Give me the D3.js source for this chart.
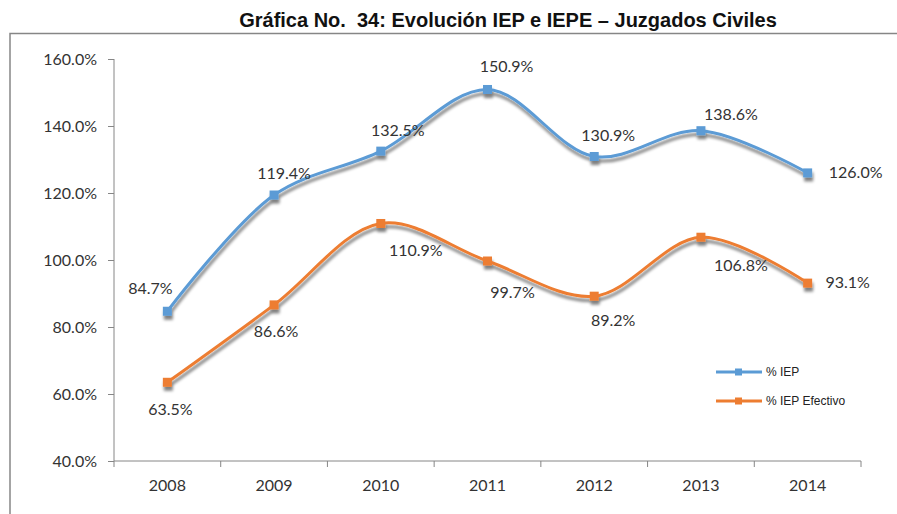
<!DOCTYPE html>
<html>
<head>
<meta charset="utf-8">
<script src="https://cdn.jsdelivr.net/npm/d3@7"></script>
<style>
  body { margin: 0; background: #fff; }
  svg { display: block; }
</style>
</head>
<body>
<svg id="chart" width="897" height="514"></svg>
<script>
// data
const years = ['2008', '2009', '2010', '2011', '2012', '2013', '2014'];
const iep = [84.7, 119.4, 132.5, 150.9, 130.9, 138.6, 126.0];
const iepe = [63.5, 86.6, 110.9, 99.7, 89.2, 106.8, 93.1];
const yTicks = [40, 60, 80, 100, 120, 140, 160];
const seriesNames = ['% IEP', '% IEP Efectivo'];

const blue = '#5b9bd5';
const orange = '#ed7d31';
const axisGrey = '#868686';

const svg = d3.select('#chart');

// shadow under the lines
const defs = svg.append('defs');
const f = defs.append('filter').attr('id', 'shadow')
    .attr('x', '-10%').attr('y', '-10%').attr('width', '120%').attr('height', '130%');
f.append('feGaussianBlur').attr('in', 'SourceAlpha').attr('stdDeviation', 1.8).attr('result', 'b');
f.append('feOffset').attr('in', 'b').attr('dx', 1).attr('dy', 3.5).attr('result', 'o');
f.append('feComponentTransfer').attr('in', 'o').attr('result', 's')
  .append('feFuncA').attr('type', 'linear').attr('slope', 0.5);
const m = f.append('feMerge');
m.append('feMergeNode').attr('in', 's');
m.append('feMergeNode').attr('in', 'SourceGraphic');

// title
svg.append('text')
    .attr('x', 508).attr('y', 27)
    .attr('text-anchor', 'middle')
    .attr('font-family', 'Liberation Sans, Arial, sans-serif')
    .attr('font-weight', 'bold')
    .attr('font-size', 20)
    .attr('fill', '#111')
    .style('white-space', 'pre')
    .text('Gráfica No.  34: Evolución IEP e IEPE – Juzgados Civiles');

// frame (top + left only visible)
svg.append('path')
    .attr('d', 'M10,514 V33.5 H897')
    .attr('fill', 'none')
    .attr('stroke', axisGrey)
    .attr('stroke-width', 1.5);

const x = d3.scaleBand().domain(years).range([114, 861]);
const y = d3.scaleLinear().domain([40, 160]).range([461, 59]);
const cx = d => x(d) + x.bandwidth() / 2;

const font = 'Lato, Carlito, Calibri, sans-serif';

// y axis
const yAxis = svg.append('g')
    .attr('transform', 'translate(114,0)')
    .call(d3.axisLeft(y).tickValues(yTicks).tickSize(6).tickPadding(11)
      .tickFormat(d => d3.format('.1f')(d) + '%'));
yAxis.select('.domain').attr('stroke', axisGrey).attr('d', 'M0,59V461');
yAxis.selectAll('line').attr('stroke', axisGrey);
yAxis.selectAll('text').attr('font-family', font).attr('font-size', 16).attr('fill', '#333');

// x axis
const xAxis = svg.append('g')
    .attr('transform', 'translate(0,461)')
    .call(d3.axisBottom(x).tickSize(0).tickPadding(19));
xAxis.select('.domain').attr('stroke', axisGrey).attr('d', 'M114,0H861');
xAxis.selectAll('text').attr('font-family', font).attr('font-size', 16).attr('fill', '#333');
const bounds = years.map(d => x(d)).concat([x(years[years.length - 1]) + x.bandwidth()]);
xAxis.selectAll('.bnd').data(bounds).enter().append('line')
    .attr('x1', d => d).attr('x2', d => d)
    .attr('y1', 0).attr('y2', 6)
    .attr('stroke', axisGrey);

// lines
const line = d3.line()
    .x((d, i) => cx(years[i]))
    .y(d => y(d))
    .curve(d3.curveCatmullRom.alpha(0.5));

const series = [
  { name: seriesNames[0], values: iep, color: blue },
  { name: seriesNames[1], values: iepe, color: orange }
];

const sg = svg.selectAll('.series').data(series).enter().append('g')
    .attr('class', 'series')
    .attr('filter', 'url(#shadow)');
sg.append('path')
    .attr('d', d => line(d.values))
    .attr('fill', 'none')
    .attr('stroke', d => d.color)
    .attr('stroke-width', 3);
sg.selectAll('rect').data(d => d.values.map((v, i) => ({ v, i, c: d.color })))
  .enter().append('rect')
    .attr('x', d => cx(years[d.i]) - 4.5)
    .attr('y', d => y(d.v) - 4.5)
    .attr('width', 9).attr('height', 9)
    .attr('fill', d => d.c);

// data labels (offsets from the point)
const iepOff = [[-17, -17], [10, -16], [17, -15], [19, -17], [14, -15], [30, -11], [48, 5]];
const iepeOff = [[3, 33], [2, 32], [35, 33], [25, 37], [19, 30], [40, 34], [40, 5]];
const labels = [];
iep.forEach((v, i) => labels.push({ v, i, off: iepOff[i] }));
iepe.forEach((v, i) => labels.push({ v, i, off: iepeOff[i] }));
svg.selectAll('.lbl').data(labels).enter().append('text')
    .attr('x', d => cx(years[d.i]) + d.off[0])
    .attr('y', d => y(d.v) + d.off[1])
    .attr('text-anchor', 'middle')
    .attr('font-family', font)
    .attr('font-size', 16)
    .attr('fill', '#333')
    .text(d => d3.format('.1f')(d.v) + '%');

// legend
const lg = svg.selectAll('.leg').data(series).enter().append('g')
    .attr('transform', (d, i) => 'translate(716,' + (372 + i * 29) + ')');
lg.append('line').attr('x1', 0).attr('x2', 46)
    .attr('stroke', d => d.color).attr('stroke-width', 3);
lg.append('rect').attr('x', 19).attr('y', -3.5).attr('width', 7).attr('height', 7)
    .attr('fill', d => d.color);
lg.append('text').attr('x', 50).attr('y', 4)
    .attr('font-family', 'Liberation Sans, Arial, sans-serif')
    .attr('font-size', 12)
    .attr('fill', '#222')
    .text(d => d.name);
</script>
</body>
</html>
